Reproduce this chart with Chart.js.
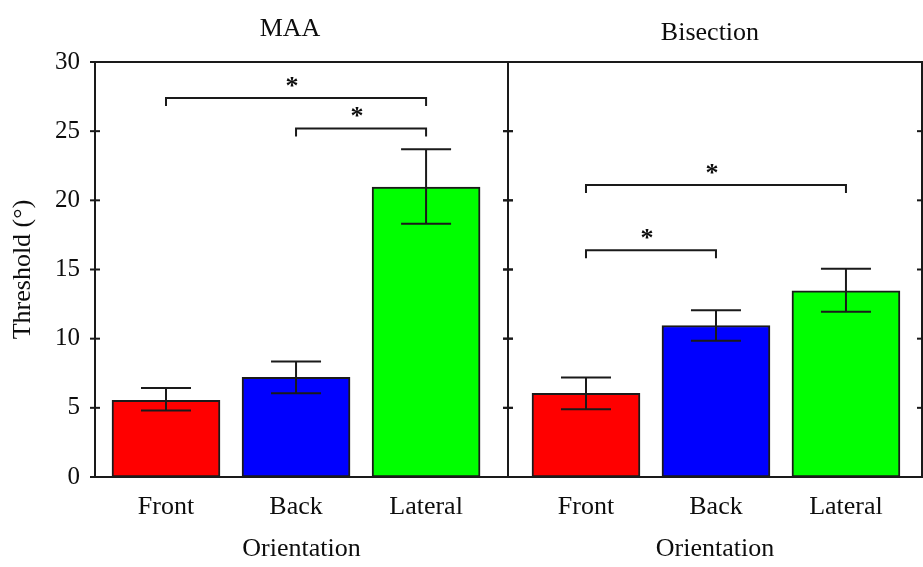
<!DOCTYPE html>
<html><head><meta charset="utf-8">
<script src="https://cdn.jsdelivr.net/npm/chart.js@4.4.1/dist/chart.umd.min.js"></script>
<style>html,body{margin:0;padding:0;background:#fff;}#wrap{position:relative;width:923px;height:567px;}canvas{position:absolute;left:0;top:0;}</style>
</head><body><div id="wrap"><canvas id="c1" width="923" height="567"></canvas><canvas id="c2" width="923" height="567"></canvas></div>
<script>
const categories = ['Front', 'Back', 'Lateral'];
const barColors = ['#ff0000', '#0000ff', '#00ff00'];
const yTicks = [0, 5, 10, 15, 20, 25, 30];

const maaMean = [5.55, 7.2, 20.95];
const maaLow = [4.8, 6.05, 18.3];
const maaHigh = [6.43, 8.35, 23.7];
const maaSigFrom = [0, 1];
const maaSigTo = [2, 2];
const maaSigLevel = [27.4, 25.2];

const bisMean = [6.05, 10.95, 13.45];
const bisLow = [4.9, 9.85, 11.95];
const bisHigh = [7.2, 12.05, 15.05];
const bisSigFrom = [0, 0];
const bisSigTo = [2, 1];
const bisSigLevel = [21.1, 16.4];

const FONT = "'Liberation Serif', 'Times New Roman', serif";
const INK = '#0d0d0d';

function framePlugin(o) {
  return {
    id: 'frame_' + o.title,
    afterDatasetsDraw(chart) {
      const {ctx, chartArea: a, scales: {x, y}} = chart;
      const line = (x1, y1, x2, y2) => { ctx.beginPath(); ctx.moveTo(x1, y1); ctx.lineTo(x2, y2); ctx.stroke(); };
      ctx.save();
      ctx.strokeStyle = '#1a1a1a';
      ctx.lineWidth = 2;
      // error bars
      o.mean.forEach((m, i) => {
        const px = x.getPixelForValue(i);
        const yl = y.getPixelForValue(o.low[i]);
        const yh = y.getPixelForValue(o.high[i]);
        line(px, yl, px, yh);
        line(px - 25, yh, px + 25, yh);
        line(px - 25, yl, px + 25, yl);
      });
      // frame
      ctx.strokeRect(a.left, a.top, a.right - a.left, a.bottom - a.top);
      // crossing ticks
      y.ticks.forEach(t => {
        const py = y.getPixelForValue(t.value);
        line(a.left - 5, py, a.left + 5, py);
        line(a.right - 5, py, a.right + 5, py);
      });
      // significance brackets
      ctx.fillStyle = INK;
      ctx.font = '26px ' + FONT;
      ctx.textAlign = 'center';
      ctx.textBaseline = 'alphabetic';
      o.sigFrom.forEach((f, k) => {
        const x1 = x.getPixelForValue(f);
        const x2 = x.getPixelForValue(o.sigTo[k]);
        const py = y.getPixelForValue(o.sigLevel[k]);
        ctx.beginPath();
        ctx.moveTo(x1, py + 8); ctx.lineTo(x1, py); ctx.lineTo(x2, py); ctx.lineTo(x2, py + 8);
        ctx.stroke();
        ctx.font = 'bold 26px ' + FONT;
        ctx.fillText('*', (x1 + x2) / 2 - 4, py - 4);
      });
      // panel title
      ctx.font = '26px ' + FONT;
      ctx.fillText(o.title, x.getPixelForValue(1) - 6, a.top - o.titleDy);
      ctx.restore();
    }
  };
}

function panel(id, o) {
  return new Chart(document.getElementById(id), {
    type: 'bar',
    data: {
      datasets: [{
        data: o.mean.map((v, i) => ({x: i, y: v})),
        backgroundColor: barColors,
        borderColor: '#1a1a1a',
        borderWidth: 2,
        borderSkipped: false,
        barThickness: 108
      }]
    },
    options: {
      responsive: false,
      animation: false,
      devicePixelRatio: 1,
      layout: {padding: {top: 62, right: o.padRight, left: 0, bottom: 0}},
      plugins: {legend: {display: false}, tooltip: {enabled: false}},
      scales: {
        x: {
          type: 'linear', min: o.xmin, max: o.xmax, offset: false,
          grid: {display: false, drawTicks: false, offset: false},
          border: {display: false},
          afterBuildTicks: s => { s.ticks = categories.map((c, i) => ({value: i})); },
          afterFit: s => { s.height = 90; },
          ticks: {padding: 15, color: INK, font: {family: FONT, size: 26}, maxRotation: 0, autoSkip: false,
                  callback: v => categories[v]},
          title: {display: true, text: 'Orientation', color: INK, font: {family: FONT, size: 26}, padding: {top: 0, bottom: 2}}
        },
        y: {
          min: 0, max: 30,
          afterBuildTicks: s => { s.ticks = yTicks.map(v => ({value: v})); },
          afterFit: s => { s.width = o.yWidth; },
          grid: {display: false, drawTicks: false},
          border: {display: false},
          ticks: {display: o.showY, padding: 15, color: INK, font: {family: FONT, size: 25}},
          title: {display: o.showY, text: 'Threshold (°)', color: INK, font: {family: FONT, size: 26}, padding: {top: 8, bottom: 0}}
        }
      }
    },
    plugins: [framePlugin(o)]
  });
}

panel('c1', {title: 'MAA', mean: maaMean, low: maaLow, high: maaHigh,
  sigFrom: maaSigFrom, sigTo: maaSigTo, sigLevel: maaSigLevel,
  xmin: -0.546, xmax: 2.63, padRight: 415, yWidth: 95, showY: true, titleDy: 26});
panel('c2', {title: 'Bisection', mean: bisMean, low: bisLow, high: bisHigh,
  sigFrom: bisSigFrom, sigTo: bisSigTo, sigLevel: bisSigLevel,
  xmin: -0.6, xmax: 2.585, padRight: 1, yWidth: 508, showY: false, titleDy: 22});
</script>
</body></html>
